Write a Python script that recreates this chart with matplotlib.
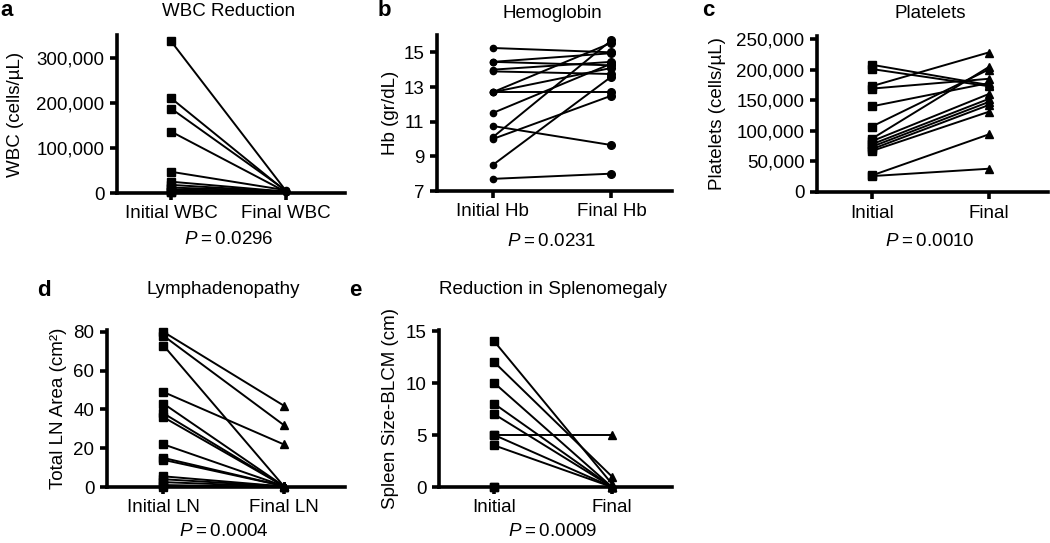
import numpy as np
import matplotlib
matplotlib.use('Agg')
import matplotlib.pyplot as plt
from matplotlib.ticker import FuncFormatter

plt.rcParams['font.family'] = ['Liberation Sans', 'DejaVu Sans']
plt.rcParams['mathtext.fontset'] = 'custom'
plt.rcParams['mathtext.it'] = 'Liberation Sans:italic'
plt.rcParams['mathtext.rm'] = 'Liberation Sans'

W, H = 1050, 543

# values (one entry per patient)
wbc_initial = [336000, 210000, 187000, 136000, 47000, 25000, 18000, 12000, 8000, 5000, 3000, 2000]
wbc_final = [4000, 3000, 5000, 2000, 6000, 3000, 2500, 4000, 3500, 2000, 1500, 3000]

hb_initial = [15.25, 14.45, 14.45, 14.0, 13.9, 12.7, 12.7, 12.7, 11.5, 10.75, 10.1, 10.0, 8.5, 7.7]
hb_final = [15.0, 14.95, 14.25, 14.45, 13.75, 15.55, 12.7, 14.1, 14.35, 9.65, 15.7, 12.5, 13.6, 8.0]

plt_initial = [208000, 201000, 173000, 169000, 140000, 107000, 87000, 83000, 78000, 74000, 70000, 67000, 27000, 26000]
plt_final = [175000, 173000, 228000, 185000, 178000, 200000, 204000, 160000, 152000, 147000, 142000, 131000, 94000, 38000]

ln_initial = [80, 78, 73, 49, 43, 38, 36, 22, 15, 14, 5.5, 4, 2.5, 1, 0]
ln_final = [42, 32, 0.5, 22, 0.5, 0.5, 0.5, 0.5, 0.5, 0.5, 0.3, 0.3, 0.2, 0, 0]

sp_initial = [14, 12, 10, 8, 7, 5, 5, 4, 0, 0]
sp_final = [0.3, 1, 0, 0, 0, 5, 0, 0, 0, 0]

wbc_ticks = [0, 100000, 200000, 300000]
hb_ticks = [7, 9, 11, 13, 15]
plt_ticks = [0, 50000, 100000, 150000, 200000, 250000]
ln_ticks = [0, 20, 40, 60, 80]
sp_ticks = [0, 5, 10, 15]


def rect(left, top, right, bottom):
    return [left / W, 1 - bottom / H, (right - left) / W, (bottom - top) / H]


def p_label(p):
    return r'$P$' + '\u2009=\u2009' + p


def panel(fig, box, title, title_off, ylabel, label_x, xlabels, initial, final,
          ylim, yticks, p_text, p_off, m_init, m_final, s_init, s_final, comma=False):
    ax = fig.add_axes(box)
    for a, b in zip(initial, final):
        ax.plot([0, 1], [a, b], color='black', linewidth=1.4, zorder=2, clip_on=False)
    ax.plot(np.zeros(len(initial)), initial, linestyle='none', marker=m_init,
            markersize=s_init, color='black', zorder=3, clip_on=False)
    ax.plot(np.ones(len(final)), final, linestyle='none', marker=m_final,
            markersize=s_final, color='black', zorder=3, clip_on=False)
    ax.set_xlim(-0.47, 1.51)
    ax.set_ylim(*ylim)
    ax.set_xticks([0, 1])
    ax.set_xticklabels(xlabels)
    ax.set_yticks(yticks)
    if comma:
        ax.yaxis.set_major_formatter(FuncFormatter(lambda v, p: '{:,.0f}'.format(v)))
    for s in ['top', 'right']:
        ax.spines[s].set_visible(False)
    for s in ['left', 'bottom']:
        ax.spines[s].set_linewidth(2.6)
    ax.tick_params(direction='out', length=5, width=2.6, labelsize=13.5, pad=4)
    ax.set_ylabel(ylabel, fontsize=13.5)
    ax.yaxis.set_label_coords(label_x, 0.5)
    ax.annotate(title, xy=(0.5, 1), xycoords=('data', 'axes fraction'),
                xytext=(0, title_off), textcoords='offset pixels',
                ha='center', va='center', fontsize=13.5)
    ax.annotate(p_label(p_text), xy=(0.5, 0), xycoords=('data', 'axes fraction'),
                xytext=(0, -p_off), textcoords='offset pixels',
                ha='center', va='center', fontsize=13.5)
    return ax


fig = plt.figure(figsize=(10.5, 5.43), dpi=100)

panel(fig, rect(117, 35, 345, 193), 'WBC Reduction', 23, 'WBC (cells/µL)', -0.408,
      ['Initial WBC', 'Final WBC'], wbc_initial, wbc_final, (0, 350000), wbc_ticks,
      '0.0296', 46, 's', 'o', 6, 4.5, comma=True)
panel(fig, rect(437, 35, 672, 191), 'Hemoglobin', 22, 'Hb (gr/dL)', -0.162,
      ['Initial Hb', 'Final Hb'], hb_initial, hb_final, (7, 16), hb_ticks,
      '0.0231', 50, 'o', 'o', 4.5, 5.5)
panel(fig, rect(817, 36, 1048, 192), 'Platelets', 22, 'Platelets (cells/µL)', -0.394,
      ['Initial', 'Final'], plt_initial, plt_final, (0, 255000), plt_ticks,
      '0.0010', 49, 's', '^', 6, 6, comma=True)
panel(fig, rect(107, 330, 345, 487), 'Lymphadenopathy', 40, 'Total LN Area (cm²)', -0.168,
      ['Initial LN', 'Final LN'], ln_initial, ln_final, (0, 81), ln_ticks,
      '0.0004', 45, 's', '^', 6, 6)
panel(fig, rect(439, 330, 672, 487), 'Reduction in Splenomegaly', 40, 'Spleen Size-BLCM (cm)', -0.172,
      ['Initial', 'Final'], sp_initial, sp_final, (0, 15.1), sp_ticks,
      '0.0009', 45, 's', '^', 6, 6)

for letter, x, y in [('a', 7, 11), ('b', 384, 11), ('c', 708, 11), ('d', 44, 290), ('e', 355, 290)]:
    fig.text(x / W, 1 - y / H, letter, fontsize=16, fontweight='bold', ha='center', va='center')

fig.savefig('out.png', dpi=100)
